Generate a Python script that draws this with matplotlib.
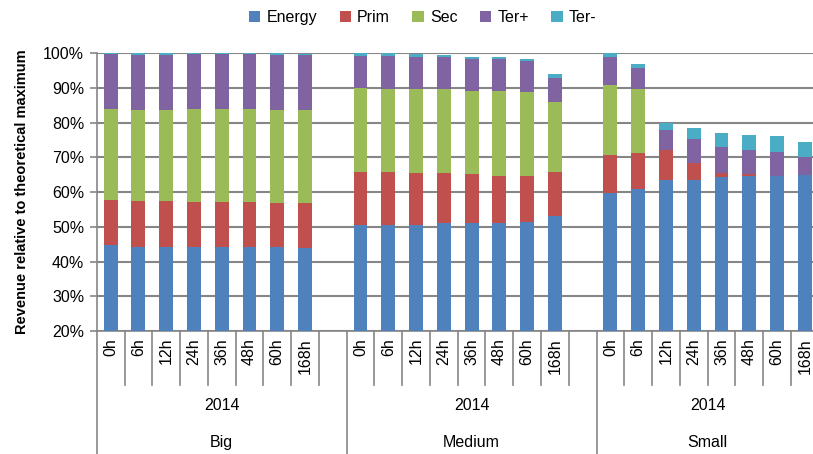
import numpy as np
import matplotlib
matplotlib.use('Agg')
from matplotlib import pyplot as plt
import matplotlib.transforms as mtransforms

plt.rcParams['font.family'] = ['Liberation Sans Narrow', 'Liberation Sans', 'DejaVu Sans']

# data (segment heights, in %)
hours = ['0h', '6h', '12h', '24h', '36h', '48h', '60h', '168h']
groups = ['Big', 'Medium', 'Small']
year = '2014'
series = ['Energy', 'Prim', 'Sec', 'Ter+', 'Ter-']
colors = ['#4F81BD', '#C0504D', '#9BBB59', '#8064A2', '#4BACC6']

big_energy = [44.7, 44.3, 44.3, 44.3, 44.3, 44.3, 44.3, 44.0]
big_prim = [12.9, 13.0, 13.0, 12.8, 12.8, 12.8, 12.5, 12.8]
big_sec = [26.4, 26.4, 26.4, 26.9, 26.9, 26.9, 26.9, 26.9]
big_terp = [15.8, 15.9, 15.9, 15.7, 15.7, 15.7, 15.9, 15.7]
big_term = [0.2, 0.3, 0.3, 0.3, 0.3, 0.3, 0.3, 0.3]

med_energy = [50.5, 50.5, 50.5, 51.1, 51.1, 51.1, 51.4, 53.0]
med_prim = [15.2, 15.2, 14.9, 14.3, 14.0, 13.6, 13.1, 12.7]
med_sec = [24.4, 24.1, 24.4, 24.3, 24.1, 24.5, 24.4, 20.1]
med_terp = [9.1, 9.4, 9.1, 9.1, 9.0, 9.0, 8.7, 6.9]
med_term = [0.8, 0.8, 0.9, 0.8, 0.7, 0.7, 0.8, 1.2]

small_energy = [59.7, 60.9, 63.6, 63.6, 64.2, 64.6, 64.6, 64.8]
small_prim = [10.9, 10.3, 8.5, 4.9, 1.4, 0.5, 0.0, 0.0]
small_sec = [20.3, 18.5, 0.0, 0.0, 0.0, 0.0, 0.0, 0.0]
small_terp = [7.9, 5.9, 5.7, 6.7, 7.3, 7.0, 7.0, 5.2]
small_term = [1.2, 1.3, 2.2, 3.3, 4.1, 4.4, 4.6, 4.4]


def main():
    data = [
        [big_energy, big_prim, big_sec, big_terp, big_term],
        [med_energy, med_prim, med_sec, med_terp, med_term],
        [small_energy, small_prim, small_sec, small_terp, small_term],
    ]

    fig = plt.figure(figsize=(8.13, 4.54), dpi=100)
    ax = fig.add_axes([0.119, 0.271, 0.888, 0.612])

    n = len(hours)
    # slot positions: each group takes n slots plus one empty slot
    starts = [0, n + 1, 2 * (n + 1)]
    total = 2 * (n + 1) + n

    for g, gdata in enumerate(data):
        x = np.arange(n) + starts[g] + 0.5
        bottom = np.zeros(n)
        for s, vals in enumerate(gdata):
            v = np.array(vals) / 100.0
            ax.bar(x, v, 0.5, bottom=bottom, color=colors[s],
                   label=series[s] if g == 0 else None, zorder=3)
            bottom = bottom + v

    ax.set_xlim(0, total)
    ax.set_ylim(0.2, 1.0)
    ax.set_yticks(np.arange(0.2, 1.01, 0.1))
    ax.set_yticklabels(['%d%%' % round(t * 100) for t in np.arange(0.2, 1.01, 0.1)],
                       fontsize=11.5)
    ax.tick_params(axis='y', length=5, color='#868686', width=1.2, pad=4)
    ax.set_xticks([])
    ax.yaxis.grid(True, color='#868686', linewidth=1.5, zorder=0)
    ax.set_axisbelow(True)
    for sp in ['top', 'right']:
        ax.spines[sp].set_visible(False)
    for sp in ['left', 'bottom']:
        ax.spines[sp].set_color('#868686')
        ax.spines[sp].set_linewidth(1.2)

    ax.set_ylabel('Revenue relative to theoretical maximum', fontsize=10.5,
                  fontweight='bold', family=['Liberation Sans', 'DejaVu Sans'],
                  labelpad=10)

    # multi-level category axis
    trans = mtransforms.blended_transform_factory(ax.transData, ax.transAxes)
    group_edges = starts + [total]
    for b in range(total + 1):
        y_end = -0.442 if b in group_edges else -0.194
        ax.plot([b, b], [0, y_end], color='#868686', lw=1.2,
                transform=trans, clip_on=False)
    for g in range(len(groups)):
        for i, h in enumerate(hours):
            ax.text(starts[g] + i + 0.5, -0.025, h, transform=trans, rotation=90,
                    ha='center', va='top', fontsize=11.5)
        gc = (group_edges[g] + group_edges[g + 1]) / 2.0
        ax.text(gc, -0.27, year, transform=trans, ha='center', va='center', fontsize=11.5)
        ax.text(gc, -0.40, groups[g], transform=trans, ha='center', va='center', fontsize=11.5)

    fig.legend(loc='upper center', bbox_to_anchor=(0.52, 1.01), ncol=5,
               frameon=False, fontsize=11.5, handlelength=0.7, handleheight=0.7,
               handletextpad=0.4, columnspacing=1.4)

    fig.savefig('out.png', dpi=100)


if __name__ == '__main__':
    main()
